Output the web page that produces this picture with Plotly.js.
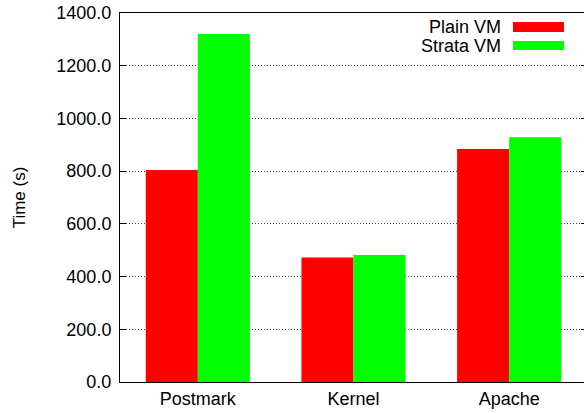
<!DOCTYPE html>
<html>
<head>
<meta charset="utf-8">
<script src="https://cdn.plot.ly/plotly-3.0.1.min.js"></script>
<style>html,body{margin:0;padding:0;overflow:hidden;background:#fff;}</style>
</head>
<body>
<div id="chart"></div>
<script>
const categories = ["Postmark", "Kernel", "Apache"];
const seriesNames = ["Plain VM", "Strata VM"];
const plainVM = [804, 472, 884];
const strataVM = [1320, 482, 929];
const tickValues = [0, 200, 400, 600, 800, 1000, 1200, 1400];

const FONT = "Liberation Sans, Arial, Helvetica, sans-serif";
const colors = ["#ff0000", "#00ff00"];

const traces = [
  {type: "bar", name: seriesNames[0], x: categories, y: plainVM, marker: {color: colors[0], line: {width: 0}}},
  {type: "bar", name: seriesNames[1], x: categories, y: strataVM, marker: {color: colors[1], line: {width: 0}}}
];

const legendTextY = [0.962, 0.911];
const swatchY = [[0.9485, 0.9756], [0.8997, 0.9241]];
const annotations = seriesNames.map((n, i) => ({
  xref: "paper", yref: "paper", x: 0.818, y: legendTextY[i],
  xanchor: "right", yanchor: "middle", showarrow: false, height: 16, borderpad: 0,
  text: n, font: {family: FONT, size: 18, color: "#000"}
}));
const shapes = seriesNames.map((n, i) => ({
  type: "rect", xref: "paper", yref: "paper",
  x0: 0.8415, x1: 0.9507, y0: swatchY[i][0], y1: swatchY[i][1],
  fillcolor: colors[i], line: {width: 0}
}));

const layout = {
  width: 587, height: 413,
  margin: {l: 120, r: 0, t: 13, b: 31},
  paper_bgcolor: "#fff", plot_bgcolor: "#fff",
  barmode: "group", bargap: 0.331, bargroupgap: 0,
  showlegend: false,
  font: {family: FONT, size: 18, color: "#000"},
  xaxis: {
    type: "category", range: [-0.5, 2.5],
    showline: true, mirror: true, linecolor: "#000", linewidth: 1,
    ticks: "", showgrid: false, zeroline: false,
    tickfont: {family: FONT, size: 18, color: "#000"}
  },
  yaxis: {
    range: [0, 1400], tickvals: tickValues, tickformat: ".1f",
    showline: true, mirror: "ticks", linecolor: "#000", linewidth: 1,
    ticks: "inside", ticklen: 6, tickcolor: "#000",
    ticklabelstandoff: 4,
    showgrid: true, gridcolor: "#444", griddash: "1px,2px", gridwidth: 1,
    zeroline: false,
    tickfont: {family: FONT, size: 18, color: "#000"},
    title: {text: "Time (s)", font: {family: FONT, size: 17, color: "#000"}, standoff: 26}
  },
  annotations: annotations,
  shapes: shapes
};

Plotly.newPlot("chart", traces, layout, {displayModeBar: false, staticPlot: true});
</script>
</body>
</html>
